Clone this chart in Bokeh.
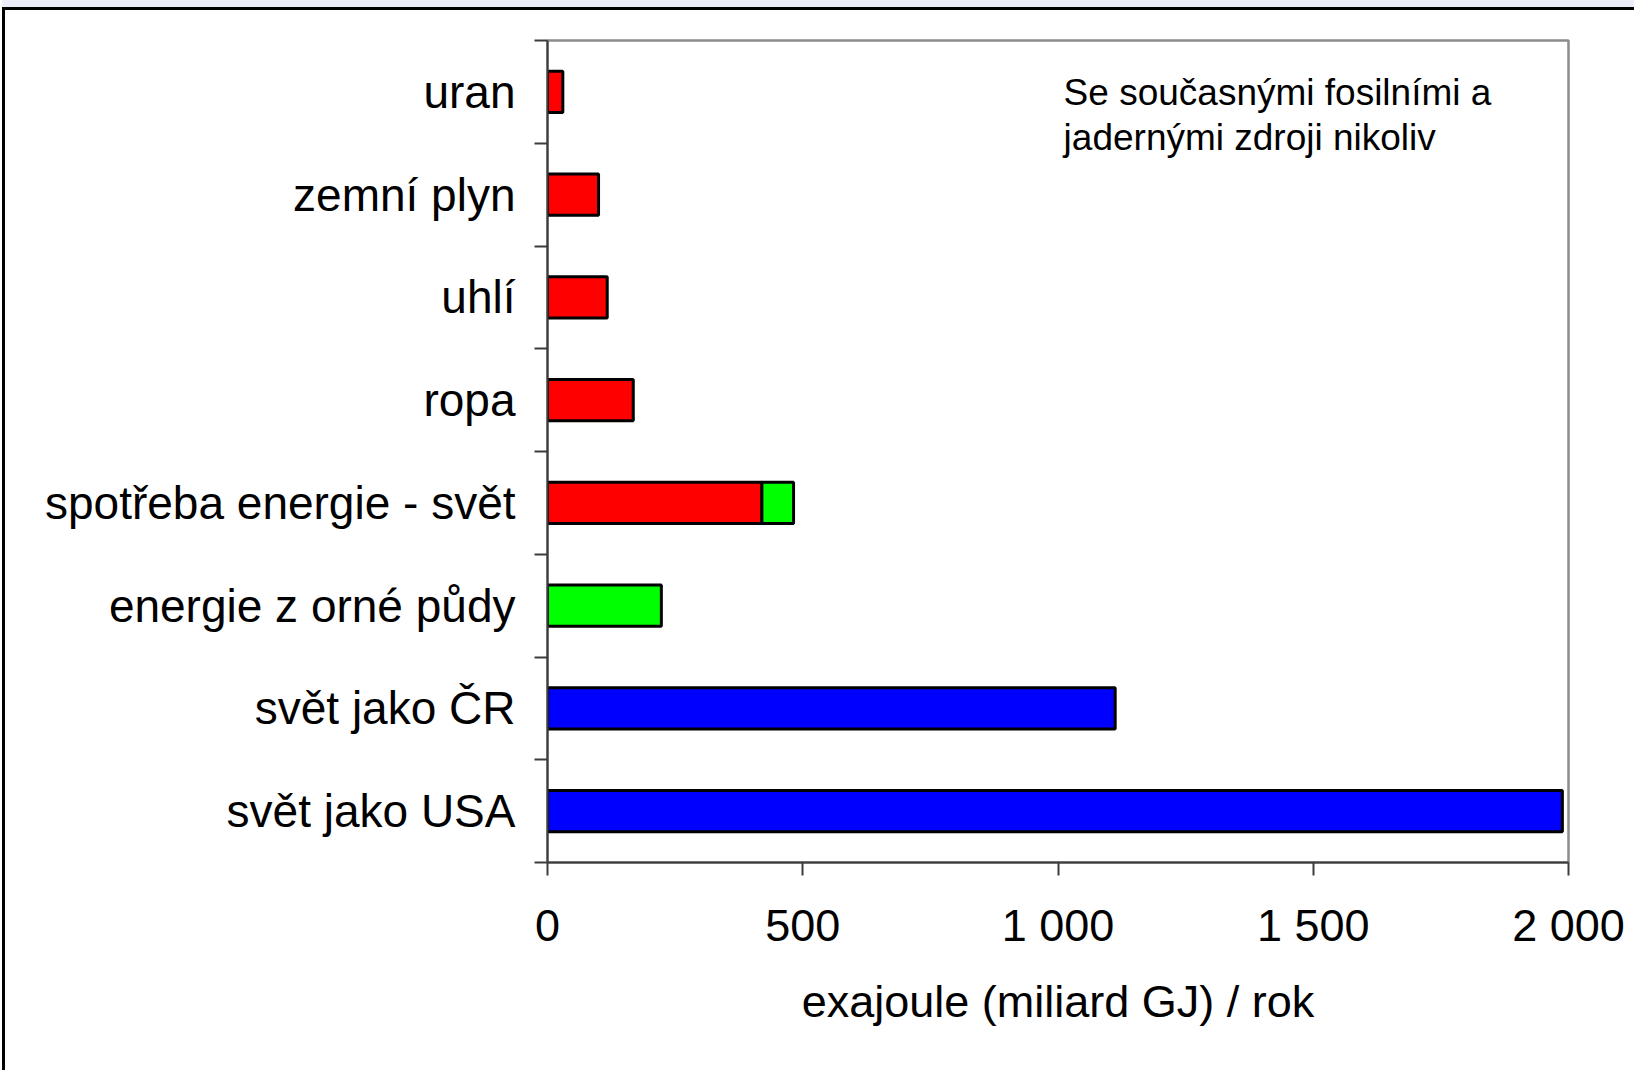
from bokeh.plotting import figure
from bokeh.models import Range1d, FixedTicker, Label, ColumnDataSource
from bokeh.embed import file_html
from bokeh.resources import INLINE
import numpy as np

# ---- data ----
categories = ["uran", "zemní plyn", "uhlí", "ropa", "spotřeba energie - svět",
              "energie z orné půdy", "svět jako ČR", "svět jako USA"]
fossil_nuclear = [30, 100, 117, 168, 420, 0, 0, 0]
renewable = [0, 0, 0, 0, 62, 223, 0, 0]
lifestyle = [0, 0, 0, 0, 0, 0, 1112, 1988]
x_ticks = [0, 500, 1000, 1500, 2000]
x_tick_labels = ["0", "500", "1 000", "1 500", "2 000"]
x_title = "exajoule (miliard GJ) / rok"
note_lines = ["Se současnými fosilními a", "jadernými zdroji nikoliv"]

FONT = "Liberation Sans"
AXIS_COLOR = "#3c3c3c"

n = len(categories)
ypos = np.arange(n) + 0.5

p = figure(width=1632, height=1063, output_backend="svg", toolbar_location=None,
           x_range=Range1d(0, 2000), y_range=Range1d(n, 0),
           min_border_left=542, min_border_right=69,
           min_border_top=30, min_border_bottom=211,
           background_fill_color="white", border_fill_color="white")

fossil = np.array(fossil_nuclear, dtype=float)
ren = np.array(renewable, dtype=float)
life = np.array(lifestyle, dtype=float)

def bars(left, right, color):
    m = right > left
    src = ColumnDataSource(dict(y=ypos[m], left=left[m], right=right[m]))
    p.hbar(y="y", left="left", right="right", height=0.4, source=src,
           fill_color=color, line_color="black", line_width=3)

bars(np.zeros(n), fossil, "#ff0000")
bars(fossil, fossil + ren, "#00ff00")
bars(np.zeros(n), life, "#0000ff")

# grid / outline
p.xgrid.grid_line_color = None
p.ygrid.grid_line_color = None
p.outline_line_color = "#8c8c8c"
p.outline_line_width = 2.5

# x axis
xa = p.xaxis[0]
xa.ticker = FixedTicker(ticks=x_ticks, minor_ticks=[])
xa.major_label_overrides = {t: l for t, l in zip(x_ticks, x_tick_labels)}
xa.major_tick_out = 13
xa.major_tick_in = 0
xa.minor_tick_out = 0
xa.minor_tick_in = 0
xa.axis_line_color = AXIS_COLOR
xa.axis_line_width = 2
xa.major_tick_line_color = AXIS_COLOR
xa.major_tick_line_width = 2
xa.major_label_text_font = FONT
xa.major_label_text_font_size = "45px"
xa.major_label_text_color = "black"
xa.major_label_standoff = 24
xa.axis_label = x_title
xa.axis_label_text_font = FONT
xa.axis_label_text_font_size = "45px"
xa.axis_label_text_font_style = "normal"
xa.axis_label_text_color = "black"
xa.axis_label_standoff = 22

# y axis
ya = p.yaxis[0]
ya.ticker = FixedTicker(ticks=[float(v) for v in ypos],
                        minor_ticks=[float(v) for v in range(n + 1)])
ya.major_label_overrides = {float(v): c for v, c in zip(ypos, categories)}
ya.major_tick_out = 0
ya.major_tick_in = 0
ya.minor_tick_out = 13
ya.minor_tick_in = 0
ya.minor_tick_line_color = AXIS_COLOR
ya.minor_tick_line_width = 2
ya.axis_line_color = AXIS_COLOR
ya.axis_line_width = 2
ya.major_label_text_font = FONT
ya.major_label_text_font_size = "46px"
ya.major_label_text_color = "black"
ya.major_label_standoff = 19

# note
band_px = 822.0 / n
for i, line in enumerate(note_lines):
    y_base = (92 + 45 * i - 40) / band_px
    p.add_layout(Label(x=1011, y=y_base, text=line, text_font=FONT,
                       text_font_size="37px", text_color="black",
                       text_baseline="alphabetic", text_align="left"))

p.styles = {"border-left": "3px solid black", "border-top": "3px solid black",
            "margin-top": "7px", "margin-left": "2px",
            "box-shadow": "0 -7px 0 0 #ededfa"}

open("out.html", "w").write(file_html(p, INLINE))
